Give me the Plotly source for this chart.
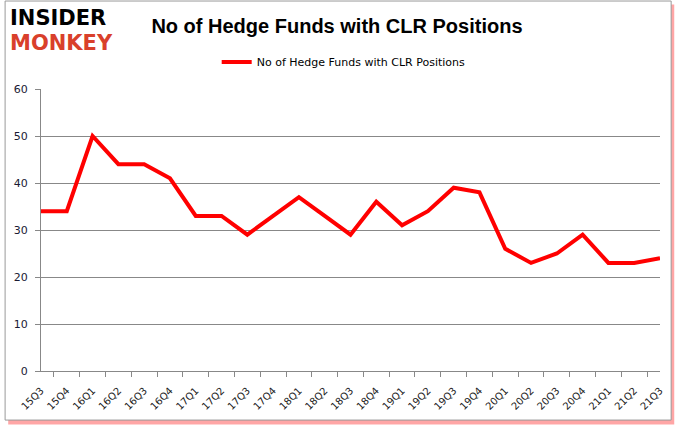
import plotly.graph_objects as go

quarters = ["15Q3","15Q4","16Q1","16Q2","16Q3","16Q4","17Q1","17Q2","17Q3","17Q4",
            "18Q1","18Q2","18Q3","18Q4","19Q1","19Q2","19Q3","19Q4","20Q1","20Q2",
            "20Q3","20Q4","21Q1","21Q2","21Q3"]
hedge_funds = [34,34,50,44,44,41,33,33,29,33,37,33,29,36,31,34,39,38,26,23,25,29,23,23,24]
y_ticks = [0,10,20,30,40,50,60]
series_name = "No of Hedge Funds with CLR Positions"
title_text = "No of Hedge Funds with CLR Positions"

fig = go.Figure()
fig.add_trace(go.Scatter(
    x=quarters, y=hedge_funds, mode="lines", name=series_name,
    line=dict(color="#FF0000", width=4),
))

fig.update_layout(
    width=678, height=431,
    paper_bgcolor="white", plot_bgcolor="rgba(0,0,0,0)",
    margin=dict(l=41, r=18, t=89, b=60),
    title=dict(text="<b>" + title_text + "</b>", x=0.497, xanchor="center", y=0.94, yanchor="middle",
               font=dict(family="Liberation Sans", size=20, color="black")),
    showlegend=True,
    legend=dict(orientation="h", x=0.489, xanchor="center", y=1.096, yanchor="middle",
                font=dict(family="DejaVu Sans", size=11, color="black"),
                bgcolor="rgba(0,0,0,0)"),
    xaxis=dict(type="category", tickson="boundaries", ticks="outside", ticklen=5,
               tickcolor="#888888", showline=True, linecolor="#888888", linewidth=1,
               showgrid=False, tickangle=-45, ticklabelstandoff=9,
               tickfont=dict(family="DejaVu Sans", size=10, color="#222222")),
    yaxis=dict(range=[0,60], tickvals=y_ticks, ticks="outside", ticklen=5,
               tickcolor="#888888", showline=True, linecolor="#888888", linewidth=1,
               showgrid=True, gridcolor="#888888", gridwidth=1, zeroline=False,
               ticklabelstandoff=5,
               tickfont=dict(family="DejaVu Sans", size=11, color="#1a1a33")),
)

# frame and shadow
fig.add_shape(type="rect", xref="paper", yref="paper", x0=-0.053, x1=1.023, y0=-0.19, y1=1.30,
              line=dict(width=0), fillcolor="rgba(255,0,0,0.35)", layer="below")
fig.add_shape(type="rect", xref="paper", yref="paper", x0=-0.058, x1=1.018, y0=-0.174, y1=1.312,
              line=dict(color="#999999", width=1), fillcolor="white", layer="below")

# logo
fig.add_annotation(text="<b>INSIDER</b>", xref="paper", yref="paper", x=-0.053, y=1.252,
                   xanchor="left", yanchor="middle", showarrow=False,
                   font=dict(family="DejaVu Sans", size=21, color="black"))
fig.add_annotation(text="<b>MONKEY</b>", xref="paper", yref="paper", x=-0.053, y=1.163,
                   xanchor="left", yanchor="middle", showarrow=False,
                   font=dict(family="DejaVu Sans", size=21, color="#D9402B"))

fig.write_html("out.html", config={"displayModeBar": False},
               post_script="document.body.style.margin='0';")
